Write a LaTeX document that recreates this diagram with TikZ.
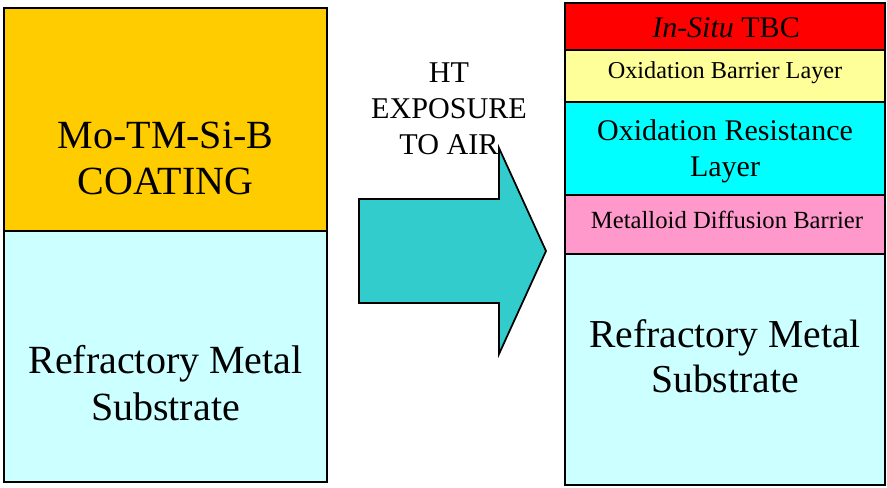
\documentclass[tikz,border=0pt]{standalone}
\usepackage{fontspec}
\setmainfont{Liberation Serif}
\usepackage{xcolor}
\usetikzlibrary{positioning}
\definecolor{coatorange}{HTML}{FFCC00}
\definecolor{substcyan}{HTML}{CCFFFF}
\definecolor{arrowteal}{HTML}{33CCCC}
\definecolor{tbcred}{HTML}{FF0000}
\definecolor{barrieryellow}{HTML}{FFFF99}
\definecolor{resistcyan}{HTML}{00FFFF}
\definecolor{diffpink}{HTML}{FF99CC}
\tikzset{
  layer/.style={rectangle, draw=black, line width=1.9pt,
    inner sep=0pt, outer sep=0pt},
  leftlayer/.style={layer, minimum width=242.25pt},
  rightlayer/.style={layer, minimum width=240pt},
  label text/.style={anchor=base, align=center, inner sep=0pt},
}

\begin{document}
\begin{tikzpicture}[x=0.75pt, y=-0.75pt]
\useasboundingbox (0,0) rectangle (887,488);
% as coated
\node[leftlayer, fill=coatorange, minimum height=167.25pt,
    anchor=north west] (coat) at (4,8) {};
\node[leftlayer, fill=substcyan, minimum height=188.25pt,
    below=0pt of coat] (sub) {};
\node[label text, font=\fontsize{30}{35}\selectfont] (coattext) at (165.5,195) {Mo-TM-Si-B\\COATING};
\node[label text, font=\fontsize{30}{35}\selectfont] (subtext) at (165.5,420) {Refractory Metal\\Substrate};
% exposure arrow
\draw[line width=1.3pt, fill=arrowteal, line join=miter]
  (359,199) -- (499,199) -- (499,148) -- (546,251)
  -- (499,354) -- (499,303) -- (359,303) -- cycle;
\node[label text, font=\fontsize{22.6}{27}\selectfont] (exposure) at (449,155) {HT\\EXPOSURE\\TO AIR};
% after exposure
\node[rightlayer, fill=tbcred, minimum height=35.25pt,
    anchor=north west] (tbc) at (565,3) {};
\node[rightlayer, fill=barrieryellow, minimum height=39pt,
    below=0pt of tbc] (barrier) {};
\node[rightlayer, fill=resistcyan, minimum height=69.75pt,
    below=0pt of barrier] (resist) {};
\node[rightlayer, fill=diffpink, minimum height=44.25pt,
    below=0pt of resist] (diffusion) {};
\node[rightlayer, fill=substcyan, minimum height=173.25pt,
    below=0pt of diffusion] (sub2) {};
\node[label text, font=\fontsize{22.5}{27}\selectfont] (tbctext) at (726,38) {\textit{In-Situ} TBC};
\node[label text, font=\fontsize{18.2}{21}\selectfont] (barriertext) at (725,79) {Oxidation Barrier Layer};
\node[label text, font=\fontsize{22.5}{27.75}\selectfont] (resisttext) at (725,177) {Oxidation Resistance\\Layer};
\node[label text, font=\fontsize{18.5}{22}\selectfont] (diffusiontext) at (727,228) {Metalloid Diffusion Barrier};
\node[label text, font=\fontsize{29.7}{33.75}\selectfont] (sub2text) at (725,392) {Refractory Metal\\Substrate};
\end{tikzpicture}
\end{document}
